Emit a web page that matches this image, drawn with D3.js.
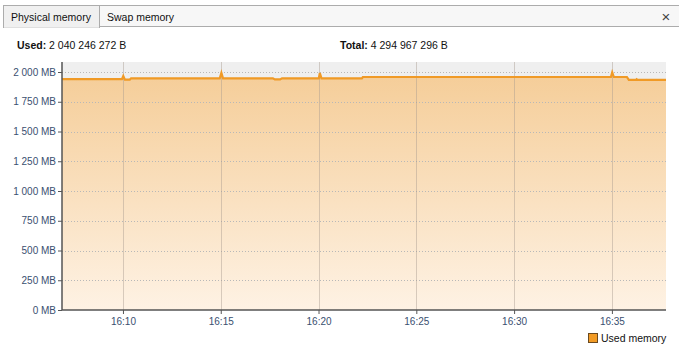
<!DOCTYPE html>
<html>
<head>
<meta charset="utf-8">
<script src="https://cdn.jsdelivr.net/npm/d3@7"></script>
<style>
  body { margin: 0; background: #fff; font-family: "Liberation Sans", Arial, sans-serif; }
  svg { display: block; }
</style>
</head>
<body>
<svg id="chart" width="679" height="349"></svg>
<script>
// sample times and used memory (MB)
const times = ["16:06:53", "16:09:57", "16:10:01", "16:10:06", "16:10:21", "16:10:25",
  "16:14:57", "16:15:02", "16:15:07", "16:17:40", "16:17:46", "16:18:02", "16:18:08",
  "16:20:01", "16:20:04", "16:20:09", "16:22:13", "16:22:16", "16:34:57", "16:35:01",
  "16:35:06", "16:35:46", "16:35:52", "16:36:13", "16:36:16", "16:36:19", "16:37:46"];
const usedMB = [1940, 1940, 1966, 1936, 1936, 1947,
  1947, 1993, 1947, 1947, 1938, 1938, 1947,
  1947, 1992, 1947, 1947, 1958, 1958, 1997,
  1958, 1958, 1933, 1933, 1940, 1933, 1933];
const yTicks = [0, 250, 500, 750, 1000, 1250, 1500, 1750, 2000];
const tabs = ["Physical memory", "Swap memory"];
const usedText = "2 040 246 272 B";
const totalText = "4 294 967 296 B";
const legendLabel = "Used memory";

const svgWidth = 679;
const svgHeight = 349;
const margin = { top: 62, right: 13, bottom: 39, left: 62 };
const width = svgWidth - margin.left - margin.right;
const height = svgHeight - margin.top - margin.bottom;

const parse = d3.timeParse("%H:%M:%S");
const data = times.map((t, i) => ({ t: parse(t), v: usedMB[i] }));

const locale = d3.formatLocale({ decimal: ",", thousands: " ", grouping: [3], currency: ["", ""] });
const fmt = locale.format(",d");

const svg = d3.select("#chart");

// tab strip
svg.append("rect").attr("x", 99.5).attr("y", 5.5).attr("width", 580).attr("height", 21)
  .attr("fill", "#f7f7f7").attr("stroke", "#acacac");
svg.append("rect").attr("x", 3.5).attr("y", 5.5).attr("width", 96).attr("height", 22)
  .attr("fill", "#f0f0f0").attr("stroke", "#acacac");
svg.append("line").attr("x1", 4).attr("x2", 99).attr("y1", 27).attr("y2", 27)
  .attr("stroke", "#f0f0f0").attr("stroke-width", 1.5);
svg.append("text").attr("x", 11).attr("y", 21).attr("font-size", "10.5px").attr("fill", "#111").text(tabs[0]);
svg.append("text").attr("x", 107).attr("y", 21).attr("font-size", "10.5px").attr("fill", "#111").text(tabs[1]);
svg.append("text").attr("x", 666).attr("y", 21.5).attr("font-size", "15px").attr("fill", "#444")
  .attr("text-anchor", "middle").text("\u00d7");

// header values
const used = svg.append("text").attr("x", 17).attr("y", 49).attr("font-size", "10.5px").attr("fill", "#111");
used.append("tspan").attr("font-weight", "bold").text("Used: ");
used.append("tspan").text(usedText);
const total = svg.append("text").attr("x", 340).attr("y", 49).attr("font-size", "10.5px").attr("fill", "#111");
total.append("tspan").attr("font-weight", "bold").text("Total: ");
total.append("tspan").text(totalText);

const g = svg.append("g").attr("transform", `translate(${margin.left},${margin.top})`);

const x = d3.scaleTime().domain([parse("16:06:53"), parse("16:37:46")]).range([0, width]);
const y = d3.scaleLinear().domain([0, 2000 * 248 / 238]).range([height, 0]);

const defs = svg.append("defs");
const grad = defs.append("linearGradient").attr("id", "fill").attr("x1", 0).attr("x2", 0).attr("y1", 0).attr("y2", 1);
grad.append("stop").attr("offset", "0%").attr("stop-color", "#f5cd98");
grad.append("stop").attr("offset", "100%").attr("stop-color", "#fef2e4");

g.append("rect").attr("width", width).attr("height", height).attr("fill", "#efefef");

const area = d3.area().x(d => x(d.t)).y0(height).y1(d => y(d.v));
g.append("path").datum(data).attr("d", area).attr("fill", "url(#fill)");

// grid
g.selectAll(".hgrid").data(yTicks.slice(1)).join("line")
  .attr("x1", 0).attr("x2", width)
  .attr("y1", d => Math.round(y(d)) + 0.5).attr("y2", d => Math.round(y(d)) + 0.5)
  .attr("stroke", "#b8b8b8").attr("stroke-dasharray", "1,2");
g.selectAll(".vgrid").data(x.ticks(d3.timeMinute.every(5))).join("line")
  .attr("x1", d => Math.round(x(d)) + 0.5).attr("x2", d => Math.round(x(d)) + 0.5)
  .attr("y1", 0).attr("y2", height)
  .attr("stroke", "#a89c90").attr("stroke-opacity", 0.45);

const line = d3.line().x(d => x(d.t)).y(d => y(d.v));
g.append("path").datum(data).attr("d", line)
  .attr("fill", "none").attr("stroke", "#f09a26").attr("stroke-width", 2.2);

// axes
const yAxis = g.append("g").call(d3.axisLeft(y).tickValues(yTicks).tickSize(4).tickFormat(d => fmt(d) + " MB"));
const xAxis = g.append("g").attr("transform", `translate(0,${height})`)
  .call(d3.axisBottom(x).ticks(d3.timeMinute.every(5)).tickSize(4).tickFormat(d3.timeFormat("%H:%M")));
[yAxis, xAxis].forEach(a => {
  a.select(".domain").attr("stroke", "#555").attr("stroke-width", 1.5);
  a.selectAll(".tick line").attr("stroke", "#555");
  a.selectAll("text").attr("fill", "#3a4f70").style("font-family", "Liberation Sans, Arial, sans-serif").style("font-size", "10px");
});
yAxis.select(".domain").attr("d", `M0,0V${height}`);
xAxis.select(".domain").attr("d", `M0,0H${width}`);
yAxis.selectAll("text").attr("x", -6);
xAxis.selectAll("text").attr("y", 8);

// legend
svg.append("rect").attr("x", 588.5).attr("y", 333.5).attr("width", 9).attr("height", 9)
  .attr("fill", "#f29b25").attr("stroke", "#6b4a20");
svg.append("text").attr("x", 601).attr("y", 342).attr("font-size", "10.5px").attr("fill", "#111").text(legendLabel);
</script>
</body>
</html>
